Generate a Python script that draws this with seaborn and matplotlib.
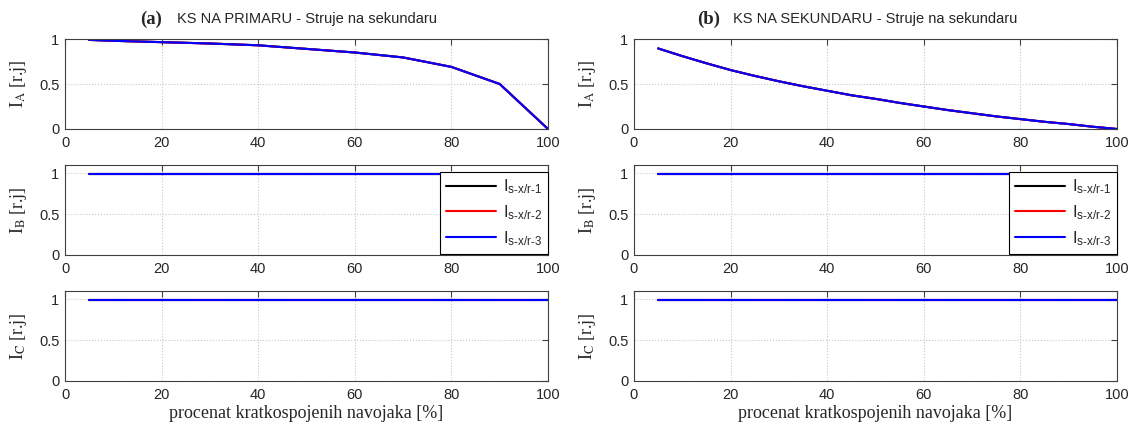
import matplotlib
matplotlib.use("Agg")
import matplotlib.pyplot as plt
import seaborn as sns
import pandas as pd

# panel (a): short circuit on primary
x_a = [5, 10, 20, 30, 40, 50, 60, 70, 80, 90, 100]
ia_a = [0.99, 0.98, 0.965, 0.95, 0.93, 0.89, 0.85, 0.795, 0.69, 0.50, 0.0]

# panel (b): short circuit on secondary
x_b = [5, 10, 15, 20, 25, 30, 35, 40, 45, 50, 55, 60, 65, 70, 75, 80, 85, 90, 95, 100]
ia_b = [0.895, 0.81, 0.73, 0.655, 0.59, 0.53, 0.475, 0.425, 0.375, 0.335, 0.29, 0.25,
        0.21, 0.175, 0.14, 0.11, 0.08, 0.055, 0.025, 0.0]

i_flat = 0.995
series_names = ["1", "2", "3"]
series_colors = ["black", "red", "blue"]
phase_labels = ["A", "B", "C"]
titles = [("(a)", "KS NA PRIMARU - Struje na sekundaru"),
          ("(b)", "KS NA SEKUNDARU - Struje na sekundaru")]
xticks = [0, 20, 40, 60, 80, 100]
yticks = [0, 0.5, 1]

sns.set_style("white")
plt.rcParams["font.family"] = ["Liberation Sans", "DejaVu Sans"]
plt.rcParams["mathtext.fontset"] = "custom"
plt.rcParams["mathtext.rm"] = "Liberation Sans"
plt.rcParams["mathtext.default"] = "regular"

fig = plt.figure(figsize=(11.36, 4.26), dpi=100)

col_left = [65 / 1136, 634 / 1136]
col_width = [483 / 1136, 483 / 1136]
row_bottom = [1 - 129 / 426, 1 - 255 / 426, 1 - 381 / 426]
row_height = 90 / 426

panels = [(x_a, ia_a), (x_b, ia_b)]
title_x = [(140, 177), (697, 733)]

for c, (xs, ia) in enumerate(panels):
    for r in range(3):
        ax = fig.add_axes([col_left[c], row_bottom[r], col_width[c], row_height])
        if r == 0:
            df = pd.DataFrame({"x": xs, "y": ia})
        else:
            df = pd.DataFrame({"x": xs, "y": [i_flat] * len(xs)})
        for name, col in zip(series_names, series_colors):
            sns.lineplot(data=df, x="x", y="y", color=col, lw=1.5, ax=ax,
                         label="I$_{s\u2011x/r\u2011" + name + "}$")
        ax.set_xlim(0, 100)
        ax.set_ylim(0, 1 if r == 0 else 1.1)
        ax.set_xticks(xticks)
        ax.set_yticks(yticks)
        ax.set_yticklabels(["0", "0.5", "1"])
        ax.grid(True, ls=":", color="#c8c8c8", lw=0.8)
        ax.tick_params(direction="in", top=True, right=True, length=4,
                       labelsize=10.5, color="#404040")
        ax.tick_params(axis="x", pad=5)
        ax.tick_params(axis="y", pad=4)
        for sp in ax.spines.values():
            sp.set_color("#404040")
            sp.set_linewidth(0.8)
        ax.set_xlabel("")
        ax.set_ylabel("I$_{\\mathrm{" + phase_labels[r] + "}}$ [r.j]",
                      fontfamily="Liberation Serif", fontsize=13,
                      math_fontfamily="stix", labelpad=7)
        if r == 1:
            leg = ax.legend(loc="upper right", bbox_to_anchor=(1.0, 0.925),
                            borderaxespad=0, fancybox=False, framealpha=1,
                            edgecolor="black", fontsize=12, handlelength=3.0,
                            labelspacing=0.42, borderpad=0.35, handletextpad=0.4)
            leg.get_frame().set_linewidth(0.8)
        else:
            ax.get_legend().remove()
        if r == 2:
            ax.set_xlabel("procenat kratkospojenih navojaka [%]",
                          fontfamily="Liberation Serif", fontsize=13, labelpad=2)

    tx1, tx2 = title_x[c]
    fig.text(tx1 / 1136, 1 - 19 / 426, titles[c][0], fontfamily="Liberation Serif",
             fontweight="bold", fontsize=13.5, va="center", ha="left")
    fig.text(tx2 / 1136, 1 - 19 / 426, titles[c][1], fontsize=10.5, va="center", ha="left")

fig.savefig("out.png", dpi=100)
